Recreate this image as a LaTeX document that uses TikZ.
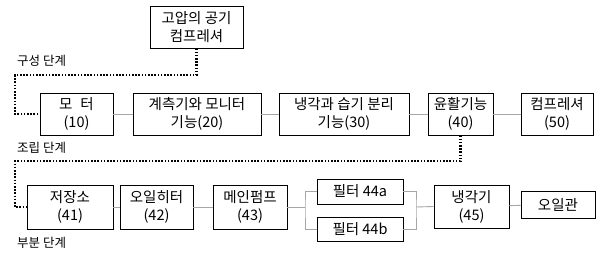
\documentclass[tikz,border=0pt]{standalone}
\usepackage{fontspec}
\setmainfont{Noto Sans CJK KR}
\begin{document}
\begin{tikzpicture}[x=1pt,y=-1pt,
  box/.style={draw=black,line width=0.8pt,align=center,inner sep=0pt,font=\fontsize{14.5}{18}\selectfont},
  conn/.style={draw=gray!70,line width=0.9pt},
  dots/.style={draw=black,line width=2.2pt,dash pattern=on 1.6pt off 1.6pt},
  lab/.style={anchor=west,inner sep=0pt,font=\fontsize{12.5}{14}\selectfont}]
\useasboundingbox (0,0) rectangle (600,257);
% top
\node[box,minimum width=93,minimum height=42] (top) at (196.5,27) {고압의 공기\\컴프레셔};
% row 1
\node[box,minimum width=73,minimum height=42] (b10) at (76.5,114) {모\hspace{0.55em}터\\(10)};
\node[box,minimum width=128,minimum height=42] (b20) at (197,114) {계측기와 모니터\\기능(20)};
\node[box,minimum width=130,minimum height=42] (b30) at (344,114) {냉각과 습기 분리\\기능(30)};
\node[box,minimum width=65,minimum height=42] (b40) at (460.5,114) {윤활기능\\(40)};
\node[box,minimum width=72,minimum height=42] (b50) at (557,114) {컴프레셔\\(50)};
% row 2
\node[box,minimum width=86,minimum height=44] (b41) at (70,207) {저장소\\(41)};
\node[box,minimum width=73,minimum height=44] (b42) at (156.5,207) {오일히터\\(42)};
\node[box,minimum width=74,minimum height=44] (b43) at (250,207) {메인펌프\\(43)};
\node[box,minimum width=86,minimum height=25] (f1) at (360,191.5) {필터 44a};
\node[box,minimum width=86,minimum height=24] (f2) at (360,229) {필터 44b};
\node[box,minimum width=75,minimum height=43] (b45) at (471.5,206.5) {냉각기\\(45)};
\node[box,minimum width=74,minimum height=27] (oil) at (558,204.5) {오일관};
% labels
\node[lab] (l1) at (17,61) {구성 단계};
\node[lab] (l2) at (17,148) {조립 단계};
\node[lab] (l3) at (17,243) {부분 단계};
% connectors
\draw[conn] (b10) -- (b20);
\draw[conn] (b20) -- (b30);
\draw[conn] (b30) -- (b40);
\draw[conn] (b40) -- (b50);
\draw[conn] (b41) -- (b42);
\draw[conn] (b42) -- (b43);
\coordinate (fl) at (305,207);
\coordinate (fr) at (416,207);
\draw[conn] (b43.east) -- (fl);
\draw[conn] (f1.west) -| (fl) |- (f2.west);
\draw[conn] (f1.east) -| (fr) |- (f2.east);
\draw[conn] (fr) -- (b45.west);
\draw[conn] (b45) -- (oil);
% dotted
\coordinate (d1) at (15,75);
\coordinate (d2) at (15,161);
\draw[dots] (top.south) |- (d1) |- (b10.west);
\draw[dots] (b40.south) |- (d2) |- (b41.west);
\end{tikzpicture}
\end{document}
